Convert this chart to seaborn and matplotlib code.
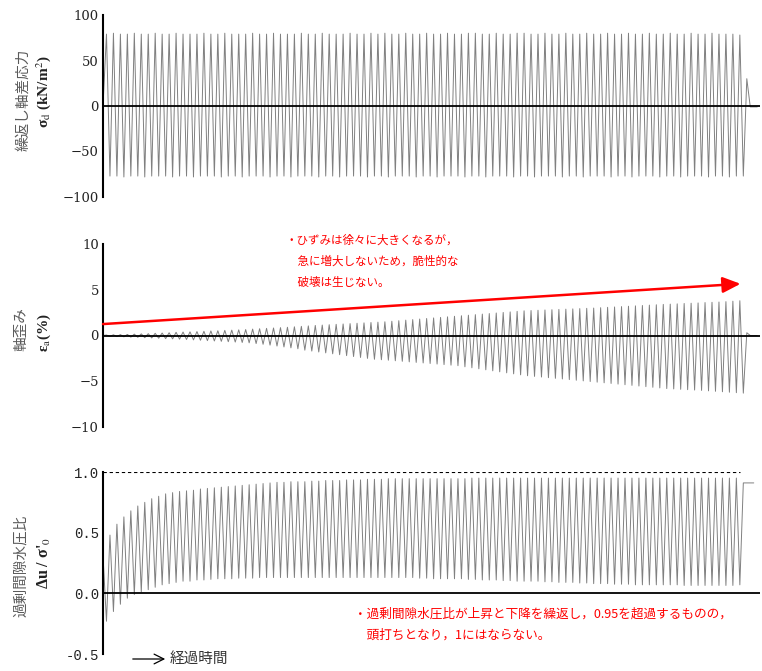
import numpy as np
import pandas as pd
import matplotlib.pyplot as plt
import seaborn as sns

# 繰返し軸差応力 σd (kN/m2): 各サイクルの最大値・最小値
sd_peaks = [79, 80, 79, 79, 80, 79, 79, 80, 79, 79,
            80, 79, 79, 79, 80, 79, 79, 80, 79, 79,
            79, 80, 79, 79, 80, 79, 79, 79, 80, 79,
            79, 80, 79, 79, 79, 80, 79, 79, 80, 79,
            80, 79, 79, 80, 79, 79, 80, 79, 79, 80,
            79, 79, 80, 80, 79, 79, 80, 79, 79, 80,
            80, 79, 79, 80, 79, 79, 80, 79, 79, 80,
            79, 79, 80, 79, 79, 80, 79, 79, 80, 79,
            79, 80, 79, 79, 80, 79, 79, 80, 79, 79,
            79, 78]
sd_troughs = [-77, -77, -78, -77, -77, -78, -77, -77, -77, -78,
              -77, -77, -78, -77, -77, -77, -78, -77, -77, -78,
              -77, -77, -77, -78, -77, -77, -78, -77, -77, -77,
              -78, -77, -77, -78, -77, -77, -77, -78, -77, -77,
              -78, -77, -77, -77, -78, -77, -77, -78, -77, -77,
              -77, -78, -77, -77, -78, -77, -77, -77, -78, -77,
              -77, -78, -77, -77, -77, -78, -77, -77, -78, -77,
              -77, -77, -78, -77, -77, -78, -77, -77, -77, -78,
              -77, -77, -78, -77, -77, -77, -78, -77, -77, -78,
              -77, -77]
sd_tail = [30, -1, -1, -1]

# 軸歪み εa (%)
ea_peaks = [0.05, 0.08, 0.10, 0.12, 0.15, 0.18, 0.20, 0.24, 0.27, 0.30,
            0.35, 0.38, 0.40, 0.43, 0.46, 0.50, 0.52, 0.56, 0.59, 0.62,
            0.65, 0.70, 0.74, 0.78, 0.82, 0.86, 0.90, 0.95, 1.00, 1.05,
            1.10, 1.14, 1.18, 1.22, 1.26, 1.30, 1.34, 1.38, 1.42, 1.46,
            1.50, 1.56, 1.62, 1.68, 1.74, 1.80, 1.86, 1.92, 1.98, 2.04,
            2.10, 2.16, 2.22, 2.28, 2.34, 2.40, 2.46, 2.52, 2.58, 2.64,
            2.70, 2.73, 2.76, 2.79, 2.82, 2.85, 2.88, 2.91, 2.94, 2.97,
            3.00, 3.04, 3.08, 3.12, 3.16, 3.20, 3.24, 3.28, 3.32, 3.36,
            3.40, 3.43, 3.46, 3.50, 3.53, 3.56, 3.60, 3.63, 3.66, 3.70,
            3.75, 3.80]
ea_troughs = [-0.10, -0.12, -0.15, -0.18, -0.20, -0.24, -0.27, -0.30, -0.34, -0.37,
              -0.40, -0.44, -0.48, -0.52, -0.56, -0.60, -0.64, -0.68, -0.72, -0.76,
              -0.80, -0.88, -0.96, -1.05, -1.15, -1.25, -1.35, -1.45, -1.60, -1.70,
              -1.80, -1.90, -2.00, -2.10, -2.20, -2.30, -2.40, -2.50, -2.60, -2.65,
              -2.70, -2.76, -2.82, -2.88, -2.94, -3.00, -3.06, -3.12, -3.18, -3.24,
              -3.30, -3.42, -3.53, -3.64, -3.75, -3.86, -3.97, -4.08, -4.19, -4.30,
              -4.40, -4.47, -4.54, -4.61, -4.68, -4.75, -4.82, -4.89, -4.96, -5.03,
              -5.10, -5.17, -5.24, -5.31, -5.38, -5.45, -5.52, -5.59, -5.66, -5.73,
              -5.80, -5.84, -5.88, -5.92, -5.96, -6.00, -6.05, -6.10, -6.15, -6.20,
              -6.25, -6.30]
ea_tail = [0.3, 0.0, 0.0, 0.0]

# 過剰間隙水圧比 Δu/σ'0
du_start = 0.31
du_troughs = [-0.23, -0.15, -0.09, -0.04, -0.01, 0.01, 0.03, 0.05, 0.07, 0.08,
              0.09, 0.10, 0.10, 0.11, 0.11, 0.115, 0.12, 0.12, 0.12, 0.125,
              0.125, 0.125, 0.13, 0.13, 0.13, 0.13, 0.13, 0.13, 0.13, 0.13,
              0.13, 0.13, 0.13, 0.13, 0.13, 0.13, 0.13, 0.13, 0.13, 0.13,
              0.13, 0.13, 0.13, 0.13, 0.13, 0.125, 0.125, 0.12, 0.12, 0.12,
              0.12, 0.12, 0.115, 0.115, 0.11, 0.11, 0.11, 0.105, 0.105, 0.10,
              0.10, 0.10, 0.10, 0.095, 0.095, 0.09, 0.09, 0.09, 0.085, 0.085,
              0.08, 0.08, 0.08, 0.075, 0.075, 0.075, 0.07, 0.07, 0.07, 0.07,
              0.07, 0.07, 0.07, 0.065, 0.065, 0.065, 0.065, 0.065, 0.065, 0.065,
              0.065, 0.07]
du_peaks = [0.48, 0.57, 0.63, 0.68, 0.72, 0.75, 0.78, 0.80, 0.82, 0.83,
            0.84, 0.845, 0.85, 0.86, 0.865, 0.87, 0.875, 0.88, 0.885, 0.89,
            0.895, 0.90, 0.905, 0.91, 0.915, 0.915, 0.92, 0.92, 0.92, 0.925,
            0.925, 0.93, 0.93, 0.93, 0.935, 0.935, 0.935, 0.94, 0.94, 0.94,
            0.945, 0.945, 0.945, 0.945, 0.945, 0.945, 0.945, 0.945, 0.945, 0.945,
            0.945, 0.945, 0.95, 0.95, 0.95, 0.95, 0.95, 0.95, 0.95, 0.95,
            0.95, 0.95, 0.95, 0.95, 0.95, 0.95, 0.95, 0.95, 0.95, 0.95,
            0.95, 0.95, 0.95, 0.95, 0.95, 0.95, 0.95, 0.95, 0.95, 0.95,
            0.95, 0.95, 0.95, 0.95, 0.95, 0.95, 0.95, 0.95, 0.95, 0.95,
            0.95]
du_tail = [0.91, 0.91, 0.91, 0.91]

note_strain = "・ひずみは徐々に大きくなるが，\n　急に増大しないため，脆性的な\n　破壊は生じない。"
note_pwp = "・過剰間隙水圧比が上昇と下降を繰返し，0.95を超過するものの，\n　頭打ちとなり，1にはならない。"


def to_frame(values):
    # 半サイクルごとの極値を時間順に並べる
    return pd.DataFrame({"t": np.arange(len(values)) * 0.5, "v": values})


sd_series = [0] + [v for p, t in zip(sd_peaks, sd_troughs) for v in (p, t)] + sd_tail
ea_series = [0] + [v for p, t in zip(ea_peaks, ea_troughs) for v in (p, t)] + ea_tail
du_series = ([du_start] + [v for t, p in zip(du_troughs[:-1], du_peaks) for v in (t, p)]
             + [du_troughs[-1]] + du_tail)

sns.set_style("white")
plt.rcParams['font.family'] = ['DejaVu Serif', 'Noto Sans CJK JP']
plt.rcParams['mathtext.fontset'] = 'stix'

W, H = 762, 671
fig = plt.figure(figsize=(W / 100, H / 100), dpi=100)

def add_panel(top, bottom):
    return fig.add_axes([103 / W, 1 - bottom / H, 657 / W, (bottom - top) / H])

ax1 = add_panel(15, 197)
ax2 = add_panel(244, 427)
ax3 = add_panel(472, 654)

wave = dict(color="#808080", lw=0.7, estimator=None, legend=False)
sns.lineplot(data=to_frame(sd_series), x="t", y="v", ax=ax1, **wave)
sns.lineplot(data=to_frame(ea_series), x="t", y="v", ax=ax2, **wave)
sns.lineplot(data=to_frame(du_series), x="t", y="v", ax=ax3, **wave)

xmax = 657 / 6.96
for ax, lim, ticks in [(ax1, (-100, 100), [-100, -50, 0, 50, 100]),
                       (ax2, (-10, 10), [-10, -5, 0, 5, 10]),
                       (ax3, (-0.5, 1.0), [-0.5, 0.0, 0.5, 1.0])]:
    ax.set_xlim(0, xmax)
    ax.set_ylim(*lim)
    ax.set_yticks(ticks)
    ax.set_xticks([])
    ax.set_xlabel("")
    ax.set_ylabel("")
    for s in ["top", "right", "bottom"]:
        ax.spines[s].set_visible(False)
    ax.spines["left"].set_color("black")
    ax.spines["left"].set_linewidth(1.5)
    ax.tick_params(axis="y", direction="in", length=4, width=1.2, color="black",
                   labelsize=9.5, pad=3, labelcolor="#222222")
    ax.axhline(0, color="black", lw=1.3, zorder=3)
    ax.patch.set_alpha(0)

ax3.set_yticklabels(["-0.5", "0.0", "0.5", "1.0"], family="Liberation Mono", fontsize=10)
ax3.hlines(1.0, 0, (len(du_series) - len(du_tail) - 1) * 0.5, colors="black",
           linestyles=(0, (3, 2.5)), lw=0.8)

# 赤矢印と注記
ax2.annotate("", xy=(91.6, 5.65), xytext=(0, 1.25),
             arrowprops=dict(arrowstyle="-|>,head_length=0.9,head_width=0.4",
                             color="red", lw=1.8, mutation_scale=12, shrinkA=0, shrinkB=0))
fig.text(286 / W, 1 - 234 / H, note_strain, color="red", fontsize=8.3,
         family="Noto Sans CJK JP", va="top", ha="left", linespacing=1.8)
fig.text(354 / W, 1 - 608 / H, note_pwp, color="red", fontsize=9.1,
         family="Noto Sans CJK JP", va="top", ha="left", linespacing=1.75)

# 縦軸ラベル
jp = dict(rotation=90, ha="center", va="center", color="#5a5a5a", family="Noto Sans CJK JP")
sym = dict(rotation=90, ha="center", va="center", color="#222222",
           family=["Liberation Serif", "Noto Sans CJK JP"], fontweight="bold")
fig.text(23 / W, 1 - 100 / H, "繰返し軸差応力", fontsize=10.5, **jp)
fig.text(44 / W, 1 - 92 / H, r"σ$_{\rm d}$ (kN/m$^{2}$)", fontsize=11, **sym)
fig.text(21 / W, 1 - 329 / H, "軸歪み", fontsize=10.5, **jp)
fig.text(44 / W, 1 - 333 / H, r"ε$_{\rm a}$(%)", fontsize=11, **sym)
fig.text(21 / W, 1 - 566 / H, "過剰間隙水圧比", fontsize=10.5, **jp)
fig.text(44 / W, 1 - 563 / H, r"Δu / σ'$_{\rm 0}$", fontsize=11.5, **sym)

# 経過時間の矢印
fig.add_artist(plt.matplotlib.patches.FancyArrowPatch(
    (130 / W, 1 - 659 / H), (168 / W, 1 - 659 / H), transform=fig.transFigure,
    arrowstyle="->,head_length=0.7,head_width=0.35", mutation_scale=10,
    color="black", lw=0.9))
fig.text(170 / W, 1 - 659 / H, "経過時間", fontsize=10.5, family="Noto Sans CJK JP",
         color="#333333", va="center", ha="left")

fig.savefig("out.png", dpi=100)
